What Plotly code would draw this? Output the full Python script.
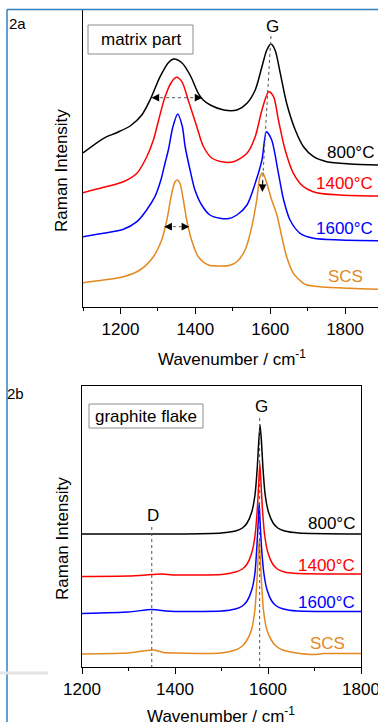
import plotly.graph_objects as go

W, H = 378, 722
FONT = "Liberation Sans, Arial, sans-serif"

# ---------------- Panel 2a : matrix part (Raman intensity, arb. units) -------------
a_800_x = [1100, 1155, 1190, 1226, 1257, 1279, 1306, 1328, 1343, 1364, 1386, 1408, 1421, 1440,
           1476, 1511, 1538, 1560, 1578, 1591, 1602, 1613, 1627, 1644, 1667, 1689, 1716, 1751,
           1813, 1888]
a_800_y = [154, 168.7, 174.3, 181, 192, 207, 230.3, 244.3, 248, 244.3, 232, 213.7, 207, 202,
           197, 197, 203.7, 217, 240.3, 257, 263, 257, 233.7, 203.7, 177, 160.3, 150.3, 145.3,
           143, 142]

a_1400_x = [1100, 1155, 1208, 1244, 1270, 1288, 1300, 1319, 1337, 1350, 1364, 1381, 1404, 1421,
            1444, 1475, 1502, 1538, 1560, 1578, 1596, 1609, 1622, 1640, 1662, 1689, 1724, 1787,
            1888]
a_1400_y = [114.3, 119.7, 125.3, 133.7, 150, 167, 184, 210, 225.3, 229.7, 225.3, 207, 180.3, 161,
            149, 145, 145.3, 153.7, 170.3, 197, 215.3, 210.3, 187, 157, 133.7, 120.3, 114.3, 112,
            111]

a_1600_x = [1100, 1155, 1208, 1244, 1270, 1292, 1308, 1319, 1328, 1340, 1353, 1365, 1373, 1386,
            1399, 1417, 1439, 1466, 1490, 1511, 1538, 1560, 1578, 1590, 1604, 1622, 1636, 1653,
            1680, 1716, 1787, 1888]
a_1600_y = [70.3, 73.7, 77.7, 85.3, 97, 110.3, 127, 143.7, 157, 180, 193, 181, 160, 137,
            117, 102, 92, 88.7, 88.5, 92, 102, 123.7, 147, 175.3, 167, 133.7, 107, 87,
            73.7, 68.7, 67, 66.3]

a_scs_x = [1100, 1155, 1208, 1252, 1288, 1310, 1324, 1337, 1346, 1352, 1359, 1368, 1377, 1390,
           1408, 1435, 1466, 1490, 1511, 1533, 1551, 1564, 1573, 1580, 1591, 1604, 1618, 1631,
           1644, 1662, 1689, 1698, 1733, 1813, 1888]
a_scs_y = [24.3, 27, 30.3, 37, 50.3, 67, 87, 113.7, 125.3, 127, 123.7, 107, 87, 67,
           50.3, 42, 41, 41.5, 45.3, 57, 80.3, 107, 130.3, 134.3, 123.7, 107, 92, 70.3,
           50.3, 33.7, 23.7, 22, 20.3, 18.7, 17.7]

# ---------------- Panel 2b : graphite flake -------------
b_800_x = [1200, 1400, 1500, 1530, 1545, 1555, 1565, 1572, 1577, 1580, 1583, 1586, 1589, 1594,
           1601, 1611, 1621, 1636, 1666, 1800]
b_800_y = [133, 133, 134, 136, 139, 144, 155, 172, 200, 225, 242, 225, 200, 172,
           155, 144, 139, 136, 134, 133]

b_1400_x = [1200, 1300, 1350, 1370, 1400, 1500, 1530, 1545, 1555, 1565, 1572, 1577, 1580, 1582.5,
            1585, 1588, 1593, 1600, 1610, 1620, 1635, 1665, 1800]
b_1400_y = [90.5, 91, 92.5, 93, 92, 92.5, 95, 98, 103, 114, 131, 158, 183, 204,
            183, 158, 131, 114, 103, 98, 95, 93.5, 93]

b_1600_x = [1200, 1300, 1350, 1380, 1400, 1500, 1530, 1545, 1555, 1565, 1572, 1576, 1579, 1581,
            1583, 1586, 1591, 1598, 1608, 1618, 1633, 1663, 1800]
b_1600_y = [53.5, 55, 57.5, 56, 55.5, 56, 58, 61, 66, 77, 94, 120, 145, 164,
            145, 120, 94, 77, 66, 61, 58, 56, 55.5]

b_scs_x = [1200, 1300, 1340, 1355, 1375, 1400, 1500, 1530, 1545, 1555, 1565, 1572, 1576, 1579,
           1581, 1583, 1586, 1590, 1597, 1607, 1617, 1632, 1662, 1700, 1720, 1800]
b_scs_y = [13, 14, 16.5, 17, 14.5, 14, 14, 17, 21, 27, 38, 58, 85, 112,
           127, 112, 85, 58, 38, 27, 21, 17, 14, 12.5, 13.5, 13.5]

series_names = ["800°C", "1400°C", "1600°C", "SCS"]
series_colors = ["#000000", "#ff0000", "#0000ff", "#e3891f"]

x_ticks = [1200, 1400, 1600, 1800]
x_tick_labels = ["1200", "1400", "1600", "1800"]


def px(p):
    return p / W


def py(p):
    return 1 - p / H


fig = go.Figure()

panel_a = [(a_800_x, a_800_y), (a_1400_x, a_1400_y), (a_1600_x, a_1600_y), (a_scs_x, a_scs_y)]
panel_b = [(b_800_x, b_800_y), (b_1400_x, b_1400_y), (b_1600_x, b_1600_y), (b_scs_x, b_scs_y)]

for (xs, ys), name, col in zip(panel_a, series_names, series_colors):
    fig.add_trace(go.Scatter(x=xs, y=ys, mode="lines", name=name,
                             line=dict(color=col, width=1.5, shape="spline", smoothing=0.8),
                             xaxis="x", yaxis="y", showlegend=False, hoverinfo="skip"))
for (xs, ys), name, col in zip(panel_b, series_names, series_colors):
    fig.add_trace(go.Scatter(x=xs, y=ys, mode="lines", name=name,
                             line=dict(color=col, width=1.5, shape="spline", smoothing=0.5),
                             xaxis="x2", yaxis="y2", showlegend=False, hoverinfo="skip"))

tickfont = dict(family=FONT, size=17, color="black")
common_x = dict(showgrid=False, zeroline=False, tickvals=x_ticks, ticktext=x_tick_labels,
                tickfont=tickfont, tickcolor="black", tickwidth=1, automargin=False,
                ticklabeloverflow="allow")

layout = dict(
    template="none",
    width=W, height=H, autosize=False, margin=dict(l=0, r=0, t=0, b=0, pad=0),
    paper_bgcolor="white", plot_bgcolor="white", showlegend=False,
    font=dict(family=FONT, size=17, color="black"),
    xaxis=dict(common_x, domain=[px(83), 1], range=[1100, 1888], anchor="y",
               ticks="outside", ticklen=6, showline=True, linecolor="black", linewidth=1.3,
               minor=dict(tickvals=[1100, 1300, 1500, 1700], ticks="outside", ticklen=3,
                          tickcolor="black")),
    xaxis3=dict(common_x, domain=[px(83), 1], range=[1100, 1888], anchor="y", overlaying="x",
                side="top", ticks="inside", ticklen=6, showticklabels=False, showline=False,
                minor=dict(tickvals=[1100, 1300, 1500, 1700], ticks="inside", ticklen=3,
                           tickcolor="black")),
    yaxis=dict(domain=[py(307), py(10)], range=[0, 297], anchor="x", showline=True,
               linecolor="black", linewidth=1.3, ticks="", showticklabels=False,
               showgrid=False, zeroline=False, automargin=False),
    xaxis2=dict(common_x, domain=[px(82), px(361)], range=[1200, 1800], anchor="y2",
                ticks="outside", ticklen=6, showline=True, mirror=True, linecolor="black",
                linewidth=1.3,
                minor=dict(tickvals=[1300, 1500, 1700], ticks="outside", ticklen=3,
                           tickcolor="black")),
    xaxis4=dict(common_x, domain=[px(82), px(361)], range=[1200, 1800], anchor="y2",
                overlaying="x2", side="top", ticks="inside", ticklen=5, showticklabels=False,
                showline=False,
                minor=dict(tickvals=[1300, 1500, 1700], ticks="inside", ticklen=4,
                           tickcolor="black")),
    yaxis2=dict(domain=[py(667), py(386)], range=[0, 281], anchor="x2", showline=True,
                mirror=True, linecolor="black", linewidth=1.3, ticks="",
                showticklabels=False, showgrid=False, zeroline=False, automargin=False),
)
fig.update_layout(**layout)

shapes = []
dot = dict(color="#555555", width=1, dash="dot")
# Panel a dotted guides
shapes.append(dict(type="line", xref="x", yref="y", x0=1602, y0=271, x1=1579.5, y1=124, line=dot))
shapes.append(dict(type="line", xref="x", yref="y", x0=1290, y0=209.3, x1=1412, y1=209.3, line=dot))
shapes.append(dict(type="line", xref="x", yref="y", x0=1324, y0=80.3, x1=1377, y1=80.3, line=dot))
# Panel b dotted guides
shapes.append(dict(type="line", xref="x2", yref="y2", x0=1582, y0=249, x1=1582, y1=0, line=dot))
shapes.append(dict(type="line", xref="x2", yref="y2", x0=1350, y0=140, x1=1350, y1=0, line=dot))
# text boxes
shapes.append(dict(type="rect", xref="paper", yref="paper", x0=px(88), x1=px(193), y0=py(54),
                   y1=py(25), line=dict(color="#8c8c8c", width=1), fillcolor="white",
                   layer="above"))
shapes.append(dict(type="rect", xref="paper", yref="paper", x0=px(89), x1=px(203), y0=py(428),
                   y1=py(404), line=dict(color="#8c8c8c", width=1), fillcolor="white",
                   layer="above"))
# page frame
frame = dict(color="#2f7fc1", width=1.5)
shapes.append(dict(type="line", xref="paper", yref="paper", x0=px(7), x1=px(7), y0=py(9.5),
                   y1=0, line=frame, layer="above"))
shapes.append(dict(type="line", xref="paper", yref="paper", x0=px(7), x1=1, y0=py(9.5),
                   y1=py(9.5), line=frame, layer="above"))
shapes.append(dict(type="line", xref="paper", yref="paper", x0=0, x1=px(48), y0=py(673),
                   y1=py(673), line=dict(color="#e4e4e4", width=3), layer="above"))
fig.update_layout(shapes=shapes)

ann = []


def label(text, x, y, color="black", size=17, xanchor="center", **kw):
    ann.append(dict(text=text, x=x, y=y, xref="paper", yref="paper", showarrow=False,
                    xanchor=xanchor, yanchor="middle", font=dict(family=FONT, size=size,
                                                                 color=color), **kw))


# panel labels
label("2a", px(7), py(23), size=15, xanchor="left")
label("2b", px(5), py(393), size=15, xanchor="left")
# boxes
label("matrix part", px(141), py(39.5), size=17)
label("graphite flake", px(146), py(416), size=17)
# peaks
label("G", px(272), py(27))
label("G", px(261), py(407))
label("D", px(153), py(515))
# series labels panel a
label(series_names[0], px(376), py(153), series_colors[0], xanchor="right")
label(series_names[1], px(375), py(183), series_colors[1], xanchor="right")
label(series_names[2], px(375), py(229), series_colors[2], xanchor="right")
label(series_names[3], px(365), py(276), series_colors[3], xanchor="right")
# series labels panel b
label(series_names[0], px(357), py(523), series_colors[0], xanchor="right")
label(series_names[1], px(357), py(565), series_colors[1], xanchor="right")
label(series_names[2], px(357), py(602), series_colors[2], xanchor="right")
label(series_names[3], px(347), py(643), series_colors[3], xanchor="right")
# axis titles
label("Wavenumber / cm<sup>-1</sup>", px(232), py(358))
label("Wavenumber / cm<sup>-1</sup>", px(221), py(715))
label("Raman Intensity", px(62), py(171), textangle=-90)
label("Raman Intensity", px(62), py(539), textangle=-90)


def arrow(xr, yr, x, y, ax):
    ann.append(dict(text="", x=x, y=y, ax=ax, ay=y, xref=xr, yref=yr, axref=xr, ayref=yr,
                    showarrow=True, arrowhead=2, arrowsize=1.4, arrowwidth=1.1,
                    arrowcolor="black"))


arrow("x", "y", 1283, 209.3, 1296)
arrow("x", "y", 1419, 209.3, 1406)
arrow("x", "y", 1317, 80.3, 1328)
arrow("x", "y", 1384, 80.3, 1373)
ann.append(dict(text="", x=1579, y=115, ax=1580.2, ay=128, xref="x", yref="y", axref="x",
                ayref="y", showarrow=True, arrowhead=2, arrowsize=1.4, arrowwidth=1.1,
                arrowcolor="black"))
fig.update_layout(annotations=ann)

fig.write_html("out.html", config={"displayModeBar": False, "responsive": False},
               post_script="document.body.style.margin='0';document.body.style.overflow='hidden';")
